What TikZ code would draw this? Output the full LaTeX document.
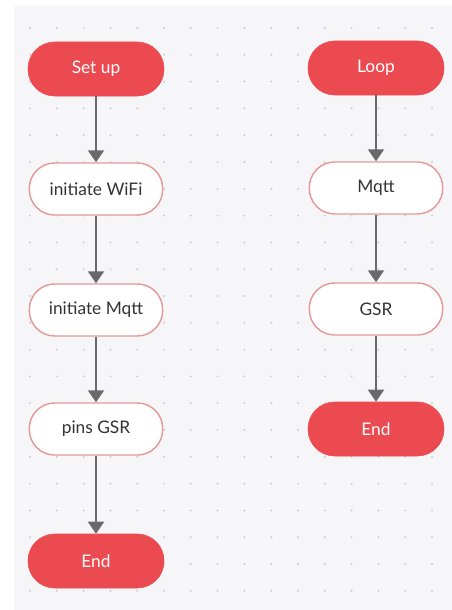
\documentclass[tikz,border=0pt]{standalone}
\usepackage{fontspec}
\setmainfont{Lato}
\usetikzlibrary{			% libraries
arrows.meta,
backgrounds
}
\definecolor{flowred}{HTML}{EB4A50}
\definecolor{flowrim}{HTML}{E39A9A}
\definecolor{flowgrey}{HTML}{69696C}
\definecolor{flowtext}{HTML}{333333}
\definecolor{panel}{HTML}{F6F6F9}
\definecolor{griddot}{HTML}{CBCBD0}

\tikzset{
terminal/.style={rectangle, rounded corners=20pt, fill=flowred, draw=flowred, text=white, minimum width=102pt, minimum height=40.5pt, font=\fontsize{13}{15}\selectfont},
process/.style={rectangle, rounded corners=19pt, fill=white, draw=flowrim, line width=1.1pt, text=flowtext, minimum width=100pt, minimum height=39pt, font=\fontsize{13}{15}\selectfont},
flow/.style={draw=flowgrey, line width=1.5pt, -{Triangle[width=12pt,length=9pt]}}
}

\begin{document}
\begin{tikzpicture}[x=0.75pt,y=-0.75pt]
\useasboundingbox (0,0) rectangle (452,610);
\fill[white] (0,0) rectangle (452,610);
\fill[panel] (14,6) rectangle (470,630);

\foreach \i in {0,...,15} %dots
{ \foreach \j in {0,...,21}
  {  \fill[griddot] (30+26.8*\i, 28+26.8*\j) circle (1.1);
  }
}

% Set up
\node[terminal] (setup) at (96,69) {Set up};
\node[process] (wifi) at (96,189) {initiate WiFi};
\node[process] (mqtt) at (96,310) {initiate Mqtt};
\node[process] (pins) at (96,429) {pins GSR};
\node[terminal] (endl) at (96,561) {End};

% Loop
\node[terminal] (loop) at (376,68) {Loop};
\node[process] (mqttr) at (376,188) {Mqtt};
\node[process] (gsr) at (376,309) {GSR};
\node[terminal] (endr) at (376,429) {End};

\draw[flow] (setup) -- (wifi);
\draw[flow] (wifi) -- (mqtt);
\draw[flow] (mqtt) -- (pins);
\draw[flow] (pins) -- (endl);

\draw[flow] (loop) -- (mqttr);
\draw[flow] (mqttr) -- (gsr);
\draw[flow] (gsr) -- (endr);
\end{tikzpicture}
\end{document}
